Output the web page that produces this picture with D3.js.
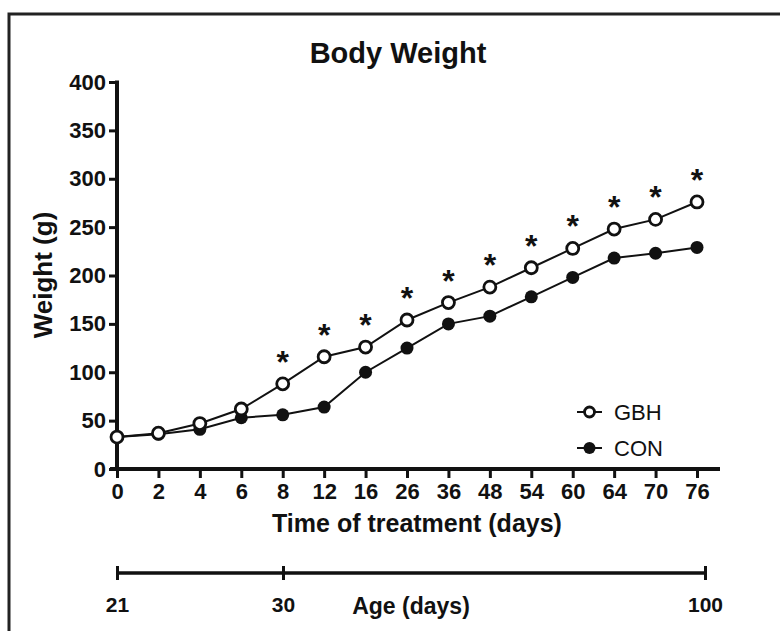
<!DOCTYPE html>
<html>
<head>
<meta charset="utf-8">
<script src="https://cdn.jsdelivr.net/npm/d3@7"></script>
<style>
  body { margin: 0; background: #fff; }
  svg { display: block; font-family: "Liberation Sans", Arial, sans-serif; }
</style>
</head>
<body>
<svg id="chart" width="780" height="631"></svg>
<script>
// treatment days (categorical x axis)
var days = ["0", "2", "4", "6", "8", "12", "16", "26", "36", "48", "54", "60", "64", "70", "76"];
// mean body weight (g)
var gbh = [33, 37, 47, 62, 88, 116, 126, 154, 172, 188, 208, 228, 248, 258, 276];
var con = [33, 36, 41, 53, 56, 64, 100, 125, 150, 158, 178, 198, 218, 223, 229];
// days with significant difference
var starDays = ["8", "12", "16", "26", "36", "48", "54", "60", "64", "70", "76"];
var yTicks = [0, 50, 100, 150, 200, 250, 300, 350, 400];
// age scale shown below
var ageTicks = [21, 30, 100];

var svg = d3.select("#chart");
var ink = "#111";
var font = "'Liberation Sans', Arial, sans-serif";

// frame
svg.append("rect")
  .attr("x", 9).attr("y", 14)
  .attr("width", 800).attr("height", 640)
  .attr("fill", "none")
  .attr("stroke", "#222")
  .attr("stroke-width", 3);

var x = d3.scalePoint().domain(days).range([117, 697]);
var y = d3.scaleLinear().domain([0, 400]).range([469, 82]);

// title
svg.append("text")
  .attr("x", 398).attr("y", 63)
  .attr("text-anchor", "middle")
  .attr("font-size", 29).attr("font-weight", "bold")
  .attr("fill", ink)
  .text("Body Weight");

// y axis
var yAxis = svg.append("g")
  .attr("transform", "translate(117,0)")
  .call(d3.axisLeft(y).tickValues(yTicks).tickSize(8).tickPadding(3).tickSizeOuter(0));
yAxis.select(".domain").attr("stroke", ink).attr("stroke-width", 4)
  .attr("d", "M0," + (y(400) - 1.5) + "V" + (y(0) + 2));
yAxis.selectAll(".tick line").attr("stroke", ink).attr("stroke-width", 3);
yAxis.selectAll(".tick text")
  .attr("font-size", 22).attr("font-weight", "bold").attr("fill", ink)
  .attr("font-family", font);

// x axis
var xAxis = svg.append("g")
  .attr("transform", "translate(0,469)")
  .call(d3.axisBottom(x).tickSize(9).tickPadding(5).tickSizeOuter(0));
xAxis.select(".domain").attr("stroke", ink).attr("stroke-width", 4)
  .attr("d", "M110,0H720");
xAxis.selectAll(".tick line").attr("stroke", ink).attr("stroke-width", 3);
xAxis.selectAll(".tick text")
  .attr("font-size", 22).attr("font-weight", "bold").attr("fill", ink)
  .attr("font-family", font);

// axis titles
svg.append("text")
  .attr("transform", "translate(52,275) rotate(-90)")
  .attr("text-anchor", "middle")
  .attr("font-size", 26).attr("font-weight", "bold").attr("fill", ink)
  .text("Weight (g)");

svg.append("text")
  .attr("x", 417).attr("y", 532)
  .attr("text-anchor", "middle")
  .attr("font-size", 25).attr("font-weight", "bold").attr("fill", ink)
  .text("Time of treatment (days)");

// lines
var line = d3.line()
  .x(function (d, i) { return x(days[i]); })
  .y(function (d) { return y(d); });

svg.append("path").datum(con)
  .attr("d", line).attr("fill", "none").attr("stroke", ink).attr("stroke-width", 2);
svg.append("path").datum(gbh)
  .attr("d", line).attr("fill", "none").attr("stroke", ink).attr("stroke-width", 2);

// CON markers (filled)
svg.append("g").selectAll("circle").data(con).join("circle")
  .attr("cx", function (d, i) { return x(days[i]); })
  .attr("cy", function (d) { return y(d); })
  .attr("r", 6.5)
  .attr("fill", ink);

// GBH markers (open)
svg.append("g").selectAll("circle").data(gbh).join("circle")
  .attr("cx", function (d, i) { return x(days[i]); })
  .attr("cy", function (d) { return y(d); })
  .attr("r", 6)
  .attr("fill", "#fff")
  .attr("stroke", ink)
  .attr("stroke-width", 2.8);

// significance stars
svg.append("g").selectAll("text").data(starDays).join("text")
  .attr("x", function (d) { return x(d); })
  .attr("y", function (d) { return y(gbh[days.indexOf(d)]) - 11; })
  .attr("text-anchor", "middle")
  .attr("font-size", 32).attr("font-weight", "bold").attr("fill", ink)
  .text("*");

// legend
var legend = [
  { name: "GBH", open: true, y: 412 },
  { name: "CON", open: false, y: 448 }
];
var lg = svg.append("g").selectAll("g").data(legend).join("g")
  .attr("transform", function (d) { return "translate(577," + d.y + ")"; });
lg.append("line").attr("x1", 0).attr("x2", 25)
  .attr("stroke", ink).attr("stroke-width", 2);
lg.append("circle").attr("cx", 12.5).attr("cy", 0)
  .attr("r", function (d) { return d.open ? 5 : 6; })
  .attr("fill", function (d) { return d.open ? "#fff" : ink; })
  .attr("stroke", ink)
  .attr("stroke-width", function (d) { return d.open ? 2.8 : 0; });
lg.append("text").attr("x", 37).attr("y", 8)
  .attr("font-size", 22).attr("fill", ink)
  .text(function (d) { return d.name; });

// age axis
var age = d3.scaleLinear().domain(ageTicks).range([117, 283, 705]);
var ageAxis = svg.append("g")
  .attr("transform", "translate(0,573)")
  .call(d3.axisBottom(age).tickValues(ageTicks).tickSize(7).tickPadding(17).tickSizeOuter(0));
ageAxis.select(".domain").attr("stroke", ink).attr("stroke-width", 3.5)
  .attr("d", "M" + age(21) + ",0H" + age(100));
ageAxis.selectAll(".tick line").attr("stroke", ink).attr("stroke-width", 3)
  .attr("y1", -7).attr("y2", 7);
ageAxis.selectAll(".tick text")
  .attr("font-size", 21).attr("font-weight", "bold").attr("fill", ink)
  .attr("font-family", font);

svg.append("text")
  .attr("x", 411).attr("y", 614)
  .attr("text-anchor", "middle")
  .attr("font-size", 23).attr("font-weight", "bold").attr("fill", ink)
  .text("Age (days)");
</script>
</body>
</html>
